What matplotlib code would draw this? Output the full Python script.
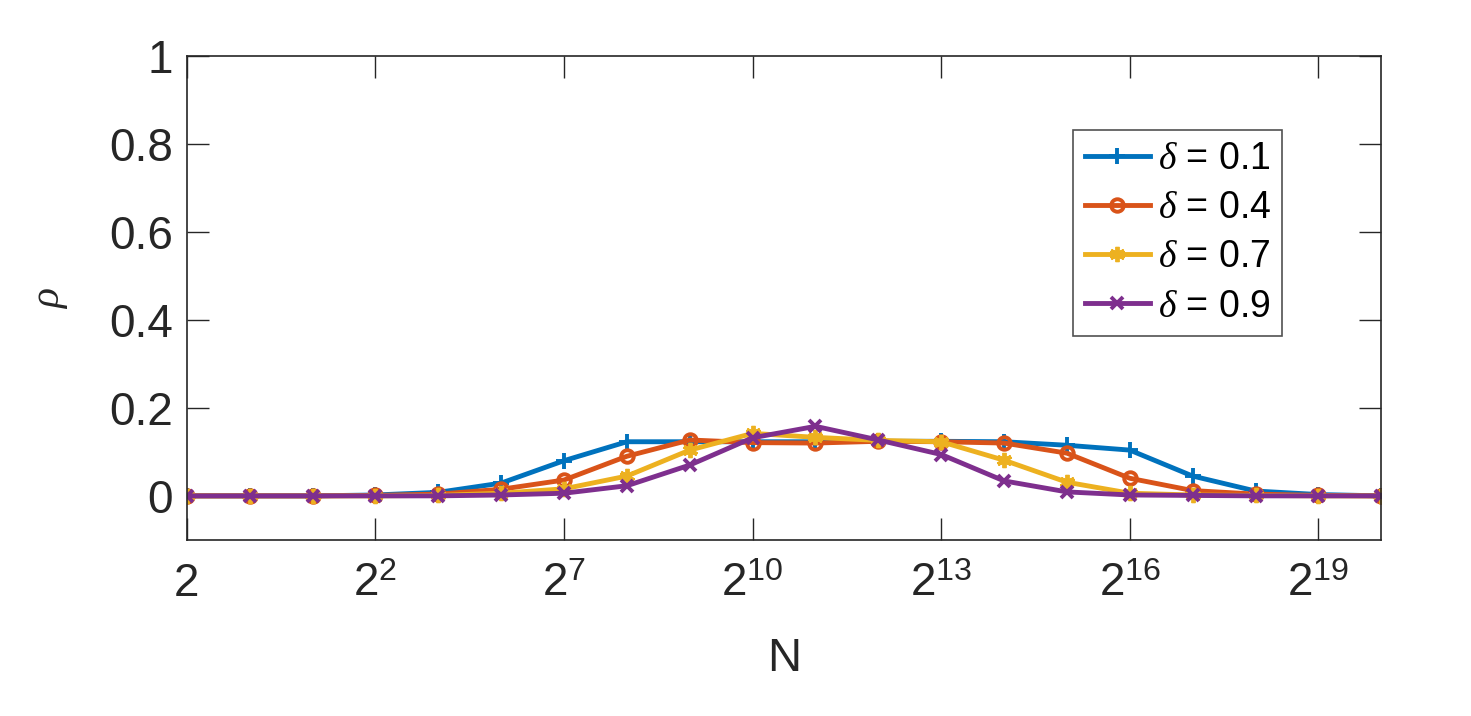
# rho em funcao de N para varios valores de delta

import matplotlib.pyplot as plt

plt.rcParams['font.family'] = ['Liberation Sans', 'DejaVu Sans']
plt.rcParams['mathtext.fontset'] = 'custom'
plt.rcParams['mathtext.rm'] = 'Liberation Sans'
plt.rcParams['mathtext.it'] = 'Liberation Serif:italic'
plt.rcParams['mathtext.default'] = 'it'

# indices dos pontos (eixo x) e rotulos
n_idx = list(range(1, 21))
xtick_pos = [1, 4, 7, 10, 13, 16, 19]
xtick_lab = ['2', '$2^2$', '$2^7$', '$2^{10}$', '$2^{13}$', '$2^{16}$', '$2^{19}$']
yticks = [0, 0.2, 0.4, 0.6, 0.8, 1]
ytick_lab = ['0', '0.2', '0.4', '0.6', '0.8', '1']

rho_01 = [0, 0, 0, 0.002, 0.008, 0.029, 0.080, 0.123, 0.123, 0.123, 0.123, 0.124,
          0.124, 0.123, 0.115, 0.104, 0.045, 0.011, 0.003, 0]
rho_04 = [0, 0, 0, 0.001, 0.004, 0.015, 0.036, 0.090, 0.127, 0.121, 0.120, 0.124,
          0.123, 0.120, 0.097, 0.040, 0.012, 0.004, 0.001, 0]
rho_07 = [0, 0, 0, 0, 0.001, 0.006, 0.016, 0.045, 0.104, 0.142, 0.133, 0.126,
          0.123, 0.081, 0.031, 0.006, 0.002, 0.001, 0, 0]
rho_09 = [0, 0, 0, 0, 0, 0.002, 0.006, 0.023, 0.070, 0.132, 0.158, 0.127,
          0.094, 0.034, 0.009, 0.002, 0.001, 0, 0, 0]

labels = [r'$\delta$ = 0.1', r'$\delta$ = 0.4', r'$\delta$ = 0.7', r'$\delta$ = 0.9']
cores = ['#0072BD', '#D95319', '#EDB120', '#7E2F8E']
marcadores = ['+', 'o', (6, 2, 0), 'x']
tamanhos = [12, 9, 11, 9]

fig = plt.figure(figsize=(14.71, 7.16), dpi=100)
ax = fig.add_axes([0.127, 0.246, 0.812, 0.676])

series = [rho_01, rho_04, rho_07, rho_09]
for s, lab, c, m, ms in zip(series, labels, cores, marcadores, tamanhos):
    ax.plot(n_idx, s, color=c, marker=m, markersize=ms, markeredgewidth=2.8,
            markerfacecolor='none' if m == 'o' else c, linewidth=3.5, label=lab)

ax.set_xlim(1, 20)
ax.set_ylim(-0.1, 1)
ax.set_xticks(xtick_pos)
ax.set_xticklabels(xtick_lab)
ax.set_yticks(yticks)
ax.set_yticklabels(ytick_lab)
ax.tick_params(direction='in', length=16, width=1, top=True, right=True,
               labelsize=33, colors='#262626')
ax.tick_params(axis='x', pad=16)
ax.tick_params(axis='y', pad=10)
for sp in ax.spines.values():
    sp.set_color('#262626')
    sp.set_linewidth(1.2)

ax.set_xlabel('N', fontsize=34, color='#262626', labelpad=22)
ax.set_ylabel(r'$\rho$', fontsize=30, color='#262626', labelpad=28)

leg = ax.legend(loc='upper right', bbox_to_anchor=(0.917, 0.847), fontsize=27,
                frameon=True, fancybox=False, edgecolor='#262626',
                handlelength=1.75, handletextpad=0.2, borderpad=0.3,
                labelspacing=0.35, borderaxespad=0)
leg.get_frame().set_linewidth(1.2)

plt.savefig('out.png', dpi=100)
